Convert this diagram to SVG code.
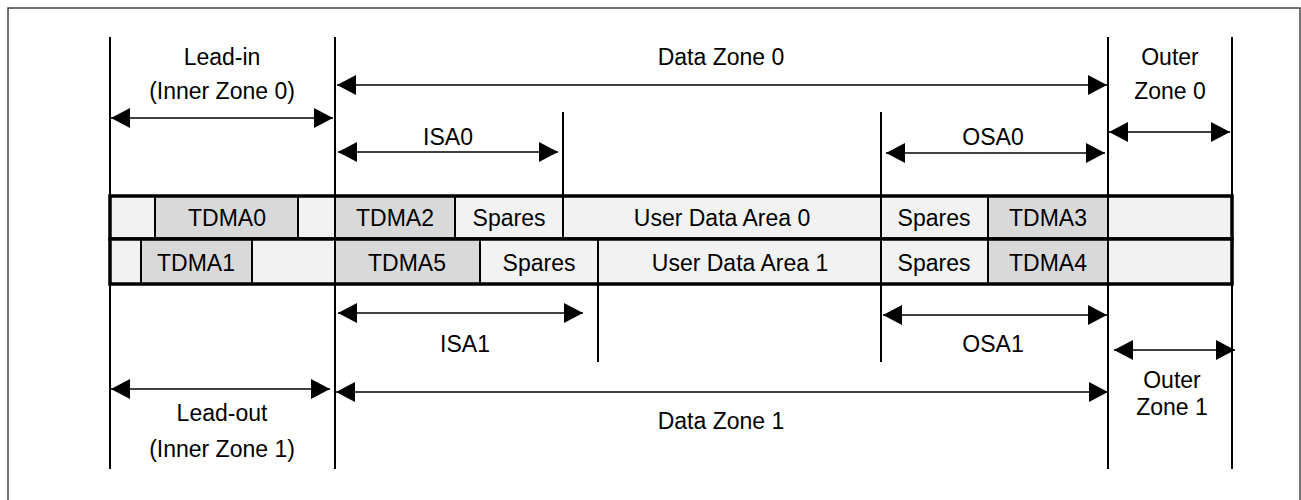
<svg xmlns="http://www.w3.org/2000/svg" width="1301" height="500" viewBox="0 0 1301 500">
<defs>
<marker id="ah" markerUnits="userSpaceOnUse" markerWidth="20" markerHeight="20" viewBox="0 0 20 20" refX="19" refY="10" orient="auto-start-reverse">
<path d="M0,0 L19,10 L0,20 Z" fill="#000"/>
</marker>
<style>
text{font-family:"Liberation Sans",Arial,sans-serif;font-size:23px;fill:#000;text-anchor:middle}
.lt{fill:#f2f2f2;stroke:#000;stroke-width:2}
.dk{fill:#d9d9d9;stroke:#000;stroke-width:2}
.vl{stroke:#000;stroke-width:2;fill:none}
.ar{stroke:#000;stroke-width:1.5;fill:none;marker-start:url(#ah);marker-end:url(#ah)}
.row{fill:none;stroke:#000;stroke-width:3.5}
</style>
</defs>
<rect width="1301" height="500" fill="#fff"/>
<rect x="8" y="8" width="1292" height="500" fill="none" stroke="#444" stroke-width="1.5"/>

<g id="guides">
<line class="vl" x1="110" y1="37" x2="110" y2="469"/>
<line class="vl" x1="335" y1="37" x2="335" y2="469"/>
<line class="vl" x1="1108" y1="37" x2="1108" y2="469"/>
<line class="vl" x1="1232" y1="37" x2="1232" y2="469"/>
<line class="vl" x1="563" y1="112" x2="563" y2="196"/>
<line class="vl" x1="881" y1="112" x2="881" y2="196"/>
<line class="vl" x1="598" y1="284" x2="598" y2="362"/>
<line class="vl" x1="881" y1="284" x2="881" y2="362"/>
</g>

<g id="row0">
<rect class="lt" x="110" y="196" width="45" height="43"/>
<rect class="dk" x="155" y="196" width="143" height="43"/>
<rect class="lt" x="298" y="196" width="37" height="43"/>
<rect class="dk" x="335" y="196" width="120" height="43"/>
<rect class="lt" x="455" y="196" width="108" height="43"/>
<rect class="lt" x="563" y="196" width="318" height="43"/>
<rect class="lt" x="881" y="196" width="107" height="43"/>
<rect class="dk" x="988" y="196" width="120" height="43"/>
<rect class="lt" x="1108" y="196" width="124" height="43"/>
<rect class="row" x="110" y="196" width="1122" height="43"/>
<text x="227" y="226">TDMA0</text>
<text x="395" y="226">TDMA2</text>
<text x="509" y="226">Spares</text>
<text x="722" y="226">User Data Area 0</text>
<text x="934" y="226">Spares</text>
<text x="1048" y="226">TDMA3</text>
</g>

<g id="row1">
<rect class="lt" x="110" y="239" width="31" height="45"/>
<rect class="dk" x="141" y="239" width="111" height="45"/>
<rect class="lt" x="252" y="239" width="83" height="45"/>
<rect class="dk" x="335" y="239" width="145" height="45"/>
<rect class="lt" x="480" y="239" width="118" height="45"/>
<rect class="lt" x="598" y="239" width="283" height="45"/>
<rect class="lt" x="881" y="239" width="107" height="45"/>
<rect class="dk" x="988" y="239" width="120" height="45"/>
<rect class="lt" x="1108" y="239" width="124" height="45"/>
<rect class="row" x="110" y="239" width="1122" height="45"/>
<text x="196" y="271">TDMA1</text>
<text x="407" y="271">TDMA5</text>
<text x="539" y="271">Spares</text>
<text x="740" y="271">User Data Area 1</text>
<text x="934" y="271">Spares</text>
<text x="1048" y="271">TDMA4</text>
</g>

<g id="connectors">
<line class="ar" x1="111" y1="118" x2="333" y2="118"/>
<line class="ar" x1="337" y1="85" x2="1107" y2="85"/>
<line class="ar" x1="338" y1="152" x2="558" y2="152"/>
<line class="ar" x1="886" y1="153" x2="1105" y2="153"/>
<line class="ar" x1="1109" y1="132" x2="1230" y2="132"/>
<line class="ar" x1="338" y1="313" x2="583" y2="313"/>
<line class="ar" x1="883" y1="315" x2="1107" y2="315"/>
<line class="ar" x1="1114" y1="350" x2="1235" y2="350"/>
<line class="ar" x1="111" y1="389" x2="330" y2="389"/>
<line class="ar" x1="336" y1="392" x2="1108" y2="392"/>
</g>

<g id="labels">
<text x="222" y="65">Lead-in</text>
<text x="222" y="99">(Inner Zone 0)</text>
<text x="721" y="65">Data Zone 0</text>
<text x="448" y="145">ISA0</text>
<text x="993" y="145">OSA0</text>
<text x="1170" y="65">Outer</text>
<text x="1170" y="99">Zone 0</text>
<text x="465" y="352">ISA1</text>
<text x="993" y="352">OSA1</text>
<text x="1172" y="388">Outer</text>
<text x="1172" y="415">Zone 1</text>
<text x="222" y="421">Lead-out</text>
<text x="222" y="457">(Inner Zone 1)</text>
<text x="721" y="429">Data Zone 1</text>
</g>
</svg>
